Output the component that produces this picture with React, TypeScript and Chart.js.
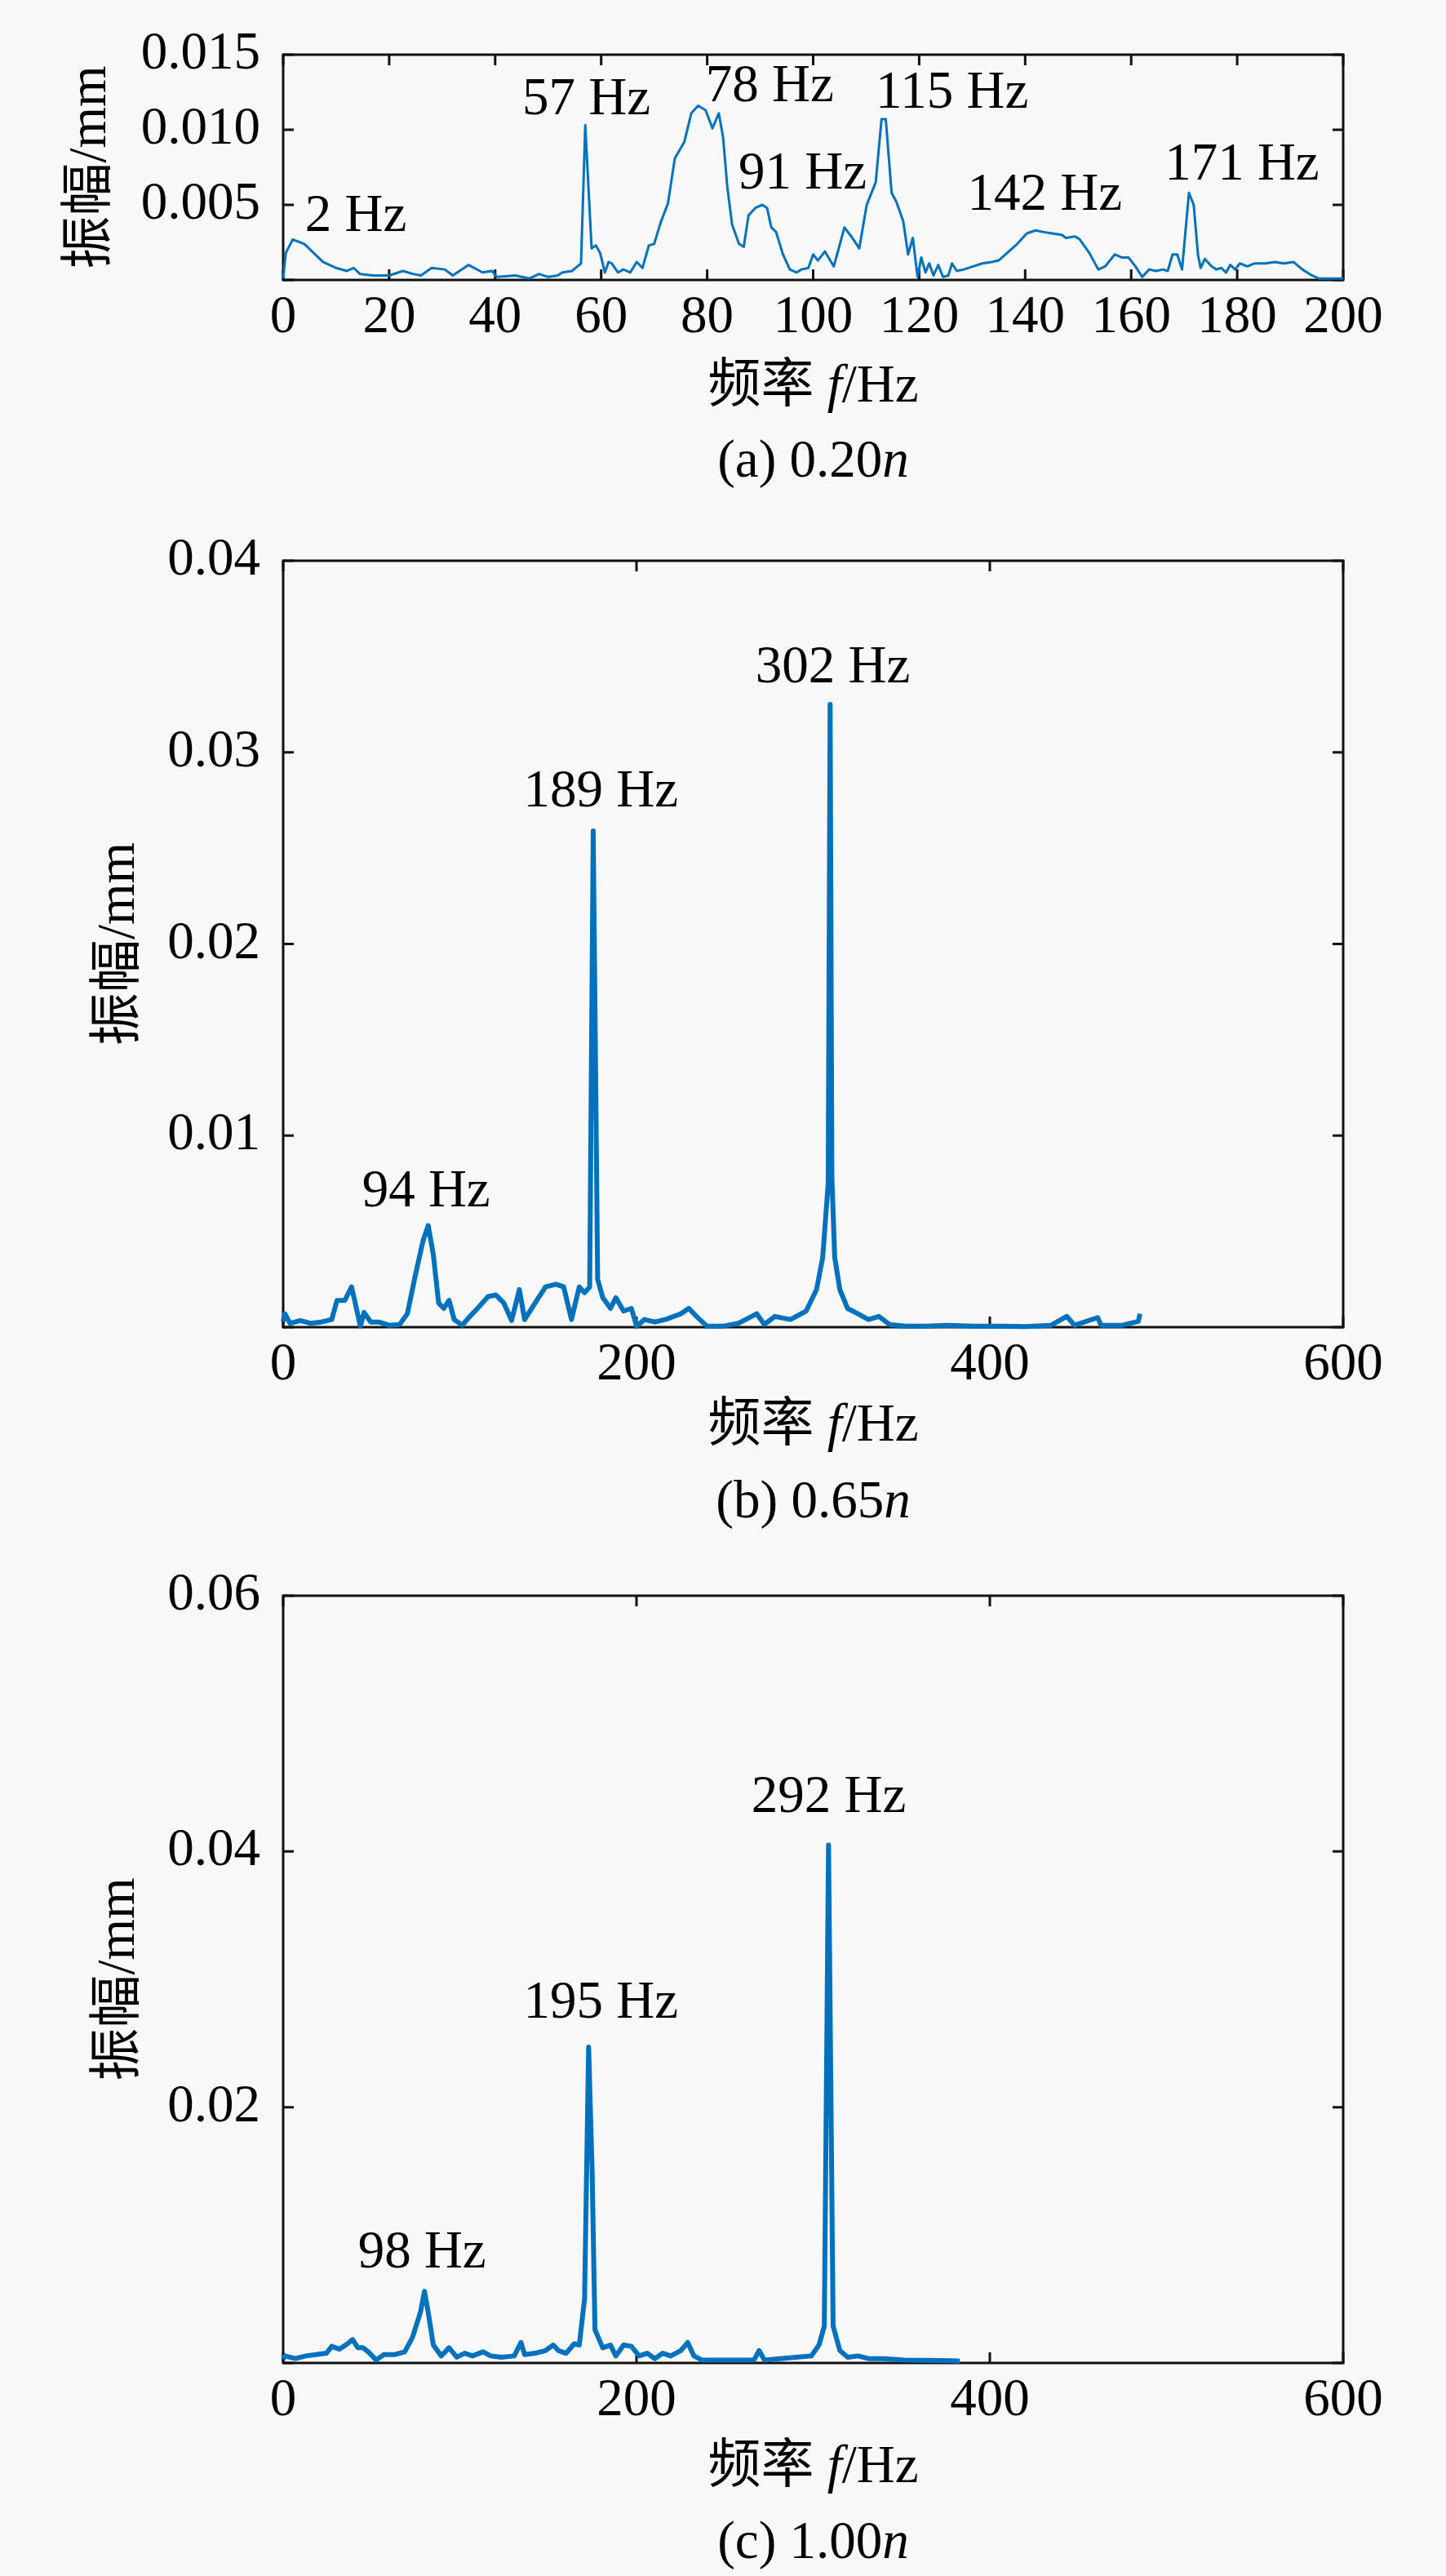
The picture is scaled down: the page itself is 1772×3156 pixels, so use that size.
import React, { useEffect, useRef } from 'react';
import { Chart, registerables } from 'chart.js';

Chart.register(...registerables);

// ---------- data: panel (a) 0.20n ----------
const freqA = [0, 0.5, 1.8, 4, 7.5, 10, 12, 13.3, 14.5, 17, 20, 22.6, 24.5, 26, 28, 30.5, 32, 35, 37.6, 39.4, 40.3, 43.8, 46.5, 48.3, 50, 51.8, 52.7, 54.5, 56.2, 57, 58.2, 59, 59.8, 60.7, 61.4, 62, 63.2, 64.2, 65.5, 66.7, 67.8, 69, 70, 71.2, 72.6, 73.9, 75.7, 77, 78.3, 79.7, 81, 82.2, 83, 83.8, 84.7, 86, 86.9, 87.8, 89.1, 90.4, 91.3, 92.1, 93, 94.3, 95.6, 96.9, 97.8, 99.1, 100, 100.9, 102.2, 103.9, 105.9, 107.4, 108.7, 110.1, 111.8, 112.9, 113.7, 114.8, 115.7, 117, 117.9, 118.8, 119.7, 120.4, 121.2, 121.9, 122.7, 123.6, 124.5, 125.5, 126.2, 127.1, 128.4, 130.2, 131.9, 133.7, 135, 136.3, 138.5, 140.3, 142, 143.3, 145.1, 146.9, 147.7, 149.4, 150.3, 152.1, 153.8, 155.1, 156.9, 158.2, 159.5, 160.8, 162.1, 163.4, 164.7, 166, 166.9, 167.8, 168.7, 169.6, 170.9, 171.8, 172.6, 173.1, 173.9, 175.2, 176.1, 177, 177.9, 178.7, 179.6, 180.5, 181.9, 183.2, 185.3, 187.1, 188.8, 190.6, 192.3, 194.1, 195.4, 200];
const ampA = [0.0001, 0.0018, 0.0027, 0.0024, 0.0012, 0.0008, 0.0006, 0.0008, 0.0004, 0.0003, 0.0003, 0.0006, 0.0004, 0.0003, 0.0008, 0.0007, 0.0003, 0.001, 0.0005, 0.0006, 0.0002, 0.0003, 0.0001, 0.0004, 0.0002, 0.0003, 0.0005, 0.0006, 0.0011, 0.0103, 0.0021, 0.0023, 0.0018, 0.0005, 0.0012, 0.0011, 0.0005, 0.0007, 0.0005, 0.0012, 0.0008, 0.0023, 0.0024, 0.0038, 0.0051, 0.0081, 0.0092, 0.0111, 0.0116, 0.0113, 0.0101, 0.0111, 0.0095, 0.0062, 0.0037, 0.0024, 0.0022, 0.0043, 0.0048, 0.005, 0.0048, 0.0035, 0.0032, 0.0017, 0.0007, 0.0005, 0.0007, 0.0008, 0.0017, 0.0013, 0.0019, 0.0009, 0.0035, 0.0028, 0.0021, 0.005, 0.0065, 0.0107, 0.0107, 0.0058, 0.0052, 0.0039, 0.0017, 0.0028, 0.0002, 0.0015, 0.0005, 0.0011, 0.0003, 0.001, 0.0002, 0.0003, 0.0011, 0.0006, 0.0007, 0.0009, 0.0011, 0.0012, 0.0013, 0.0017, 0.0024, 0.0031, 0.0033, 0.0032, 0.0031, 0.003, 0.0028, 0.0029, 0.0027, 0.0018, 0.0007, 0.0009, 0.0017, 0.0015, 0.0015, 0.0009, 0.0002, 0.0007, 0.0006, 0.0007, 0.0006, 0.0017, 0.0017, 0.0007, 0.0058, 0.005, 0.0017, 0.0008, 0.0014, 0.0009, 0.0007, 0.0008, 0.0005, 0.001, 0.0007, 0.0011, 0.0009, 0.0011, 0.0011, 0.0012, 0.0011, 0.0012, 0.0007, 0.0003, 0.0001, 0.0001];
const labelTextA = ['2 Hz', '57 Hz', '78 Hz', '91 Hz', '115 Hz', '142 Hz', '171 Hz'];
const labelFreqA = [13.7, 57.2, 91.8, 98, 126.2, 143.7, 180.9];
const labelAmpA = [0.00417, 0.01194, 0.01282, 0.00699, 0.01238, 0.00558, 0.00762];

// ---------- data: panel (b) 0.65n ----------
const freqB = [0, 1, 3.9, 9.8, 15.7, 21.6, 27.5, 30.5, 34.9, 38.7, 40.8, 43.7, 45.8, 49.6, 54, 60, 65.9, 70.3, 74.7, 79.1, 82.1, 85, 88, 90.9, 93.9, 96.8, 101.3, 105.7, 110, 116, 120.4, 124.9, 129.3, 133.7, 136.7, 142.6, 148.5, 154.4, 158.8, 163.2, 167.6, 170.6, 173.5, 175.5, 176.6, 178, 180.9, 185.3, 188.3, 192.7, 197.1, 200.1, 204.5, 210.4, 216.3, 225.1, 229.6, 234, 239.9, 248.8, 257.6, 268, 272.4, 278.3, 287.1, 296, 301.9, 305.4, 308.5, 309.6, 310.6, 312.2, 315.1, 319.5, 325.4, 331.3, 337.2, 343.2, 352, 363.8, 375.6, 390.4, 405.1, 419.9, 434.6, 443.5, 448, 461, 463, 475, 484, 485];
const ampB = [0.0003, 0.0007, 0.0002, 0.00035, 0.0002, 0.00027, 0.0004, 0.0014, 0.0014, 0.0021, 0.00126, 0.00005, 0.00077, 0.00027, 0.00027, 0.0001, 0.00014, 0.0007, 0.00266, 0.00448, 0.0053, 0.00378, 0.00126, 0.00098, 0.0014, 0.0004, 0.0001, 0.00056, 0.00098, 0.0016, 0.00168, 0.00126, 0.00035, 0.00196, 0.0004, 0.00126, 0.0021, 0.00224, 0.0021, 0.0004, 0.0021, 0.0018, 0.0021, 0.0259, 0.0157, 0.0025, 0.00154, 0.00098, 0.00154, 0.00084, 0.00098, 0.00005, 0.0004, 0.00027, 0.0004, 0.0007, 0.00098, 0.00056, 0.00005, 0.00005, 0.0002, 0.0007, 0.00014, 0.00056, 0.0004, 0.00084, 0.00196, 0.00364, 0.0075, 0.0325, 0.0078, 0.00364, 0.00196, 0.00098, 0.0007, 0.0004, 0.00056, 0.00014, 0.00005, 0.00005, 0.0001, 0.00005, 0.00005, 0.00003, 0.0001, 0.00056, 0.0001, 0.0005, 0.0001, 0.0001, 0.0003, 0.0007];
const labelTextB = ['94 Hz', '189 Hz', '302 Hz'];
const labelFreqB = [80.9, 179.8, 311.1];
const labelAmpB = [0.00703, 0.0279, 0.0344];

// ---------- data: panel (c) 1.00n ----------
const freqC = [0, 1, 6.9, 12.8, 18.7, 24.5, 27.5, 31.9, 36.4, 39.3, 42.3, 45.2, 48.2, 52.6, 57, 62.9, 68.8, 73.2, 77.7, 80, 82.1, 85, 89.5, 93.9, 98.3, 102.7, 107.2, 113.1, 117.5, 123.4, 130.8, 134.6, 136.7, 142.6, 148.5, 152.9, 155.8, 160.2, 164.7, 167.6, 170.6, 172.9, 174.9, 176.5, 180.9, 185.3, 188.3, 192.7, 197.1, 201.5, 206, 210.4, 214.8, 219.3, 225.1, 229, 232.5, 237, 248.8, 257.6, 266.5, 269.4, 272.4, 281.2, 290.1, 298.9, 303.3, 306.3, 308.7, 311.3, 315.1, 319.5, 325.4, 331.3, 340.2, 352, 363.8, 378.5, 383];
const ampC = [0.0003, 0.00055, 0.00034, 0.00055, 0.00065, 0.00076, 0.0013, 0.00108, 0.0015, 0.00183, 0.00119, 0.00119, 0.00087, 0.00023, 0.00065, 0.00065, 0.00087, 0.002, 0.00396, 0.0056, 0.00396, 0.0014, 0.00055, 0.00119, 0.00045, 0.00076, 0.00055, 0.00087, 0.00055, 0.00045, 0.00055, 0.0016, 0.00065, 0.00076, 0.00097, 0.0014, 0.00097, 0.00076, 0.0015, 0.0014, 0.005, 0.0247, 0.0149, 0.0026, 0.00119, 0.0014, 0.00055, 0.0014, 0.0013, 0.00055, 0.00076, 0.00034, 0.00076, 0.00055, 0.00097, 0.0016, 0.00055, 0.00023, 0.00023, 0.00023, 0.00023, 0.00097, 0.00023, 0.00034, 0.00045, 0.00055, 0.0014, 0.00288, 0.0405, 0.00288, 0.00097, 0.00045, 0.00055, 0.00034, 0.00034, 0.00023, 0.0002, 0.00017, 0.00015];
const labelTextC = ['98 Hz', '195 Hz', '292 Hz'];
const labelFreqC = [78.6, 179.8, 308.8];
const labelAmpC = [0.00856, 0.0281, 0.0442];

const xTitleParts = ['频率 ', 'f', '/Hz'];
const yTitle = '振幅/mm';

// ---------- styling ----------
const SERIF = "'Liberation Serif', 'Times New Roman', 'Noto Sans CJK SC', serif";
const FS = 65;
const BLUE = '#0072BD';
const PAGE_W = 1772;
const PLOT_LEFT = 347;
const PLOT_RIGHT = 1646;
const TICK = 13;

type PanelCfg = {
  freq: number[];
  amp: number[];
  labelText: string[];
  labelFreq: number[];
  labelAmp: number[];
  caption: string;
  xMax: number;
  xStep: number;
  yMax: number;
  yStep: number;
  yDec: number;
  top: number;
  height: number;
  padTop: number;
  xAxisH: number;
  yTitlePad: number;
  lineWidth: number;
  titleOff: number;
  capOff: number;
};

const panels: PanelCfg[] = [
  {
    freq: freqA, amp: ampA, labelText: labelTextA, labelFreq: labelFreqA, labelAmp: labelAmpA,
    caption: '(a) 0.20', xMax: 200, xStep: 20, yMax: 0.015, yStep: 0.005, yDec: 3,
    top: 0, height: 620, padTop: 34, xAxisH: 277, yTitlePad: 73, lineWidth: 3,
    titleOff: 132, capOff: 224,
  },
  {
    freq: freqB, amp: ampB, labelText: labelTextB, labelFreq: labelFreqB, labelAmp: labelAmpB,
    caption: '(b) 0.65', xMax: 600, xStep: 200, yMax: 0.04, yStep: 0.01, yDec: 2,
    top: 620, height: 1260, padTop: 57, xAxisH: 254, yTitlePad: 108, lineWidth: 6,
    titleOff: 122, capOff: 216,
  },
  {
    freq: freqC, amp: ampC, labelText: labelTextC, labelFreq: labelFreqC, labelAmp: labelAmpC,
    caption: '(c) 1.00', xMax: 600, xStep: 200, yMax: 0.06, yStep: 0.02, yDec: 2,
    top: 1880, height: 1276, padTop: 75, xAxisH: 261, yTitlePad: 108, lineWidth: 6,
    titleOff: 129, capOff: 222,
  },
];

function drawRich(ctx: CanvasRenderingContext2D, parts: { t: string; it: boolean }[], cx: number, cy: number) {
  const fontOf = (it: boolean) => `${it ? 'italic ' : ''}${FS}px ${SERIF}`;
  let total = 0;
  const widths = parts.map((p) => {
    ctx.font = fontOf(p.it);
    const w = ctx.measureText(p.t).width;
    total += w;
    return w;
  });
  let x = cx - total / 2;
  ctx.textAlign = 'left';
  ctx.textBaseline = 'middle';
  ctx.fillStyle = '#000';
  parts.forEach((p, i) => {
    ctx.font = fontOf(p.it);
    ctx.fillText(p.t, x, cy);
    x += widths[i];
  });
}

function Panel({ cfg }: { cfg: PanelCfg }) {
  const ref = useRef<HTMLCanvasElement>(null);

  useEffect(() => {
    const canvas = ref.current;
    if (!canvas) return;
    const points = cfg.freq.map((f, i) => ({ x: f, y: cfg.amp[i] }));

    const framePlugin = {
      id: 'frame',
      beforeDatasetsDraw(chart: any) {
        const { ctx, chartArea } = chart;
        const { left, right, top, bottom } = chartArea;
        const xs = chart.scales.x;
        const ys = chart.scales.y;
        ctx.save();
        ctx.strokeStyle = '#111';
        ctx.lineWidth = 3;
        ctx.beginPath();
        xs.ticks.forEach((t: any) => {
          const p = xs.getPixelForValue(t.value);
          ctx.moveTo(p, bottom);
          ctx.lineTo(p, bottom - TICK);
          ctx.moveTo(p, top);
          ctx.lineTo(p, top + TICK);
        });
        ys.ticks.forEach((t: any) => {
          const p = ys.getPixelForValue(t.value);
          ctx.moveTo(left, p);
          ctx.lineTo(left + TICK, p);
          ctx.moveTo(right, p);
          ctx.lineTo(right - TICK, p);
        });
        ctx.stroke();
        ctx.strokeRect(left, top, right - left, bottom - top);
        ctx.restore();
      },
      afterDraw(chart: any) {
        const { ctx, chartArea } = chart;
        const xs = chart.scales.x;
        const ys = chart.scales.y;
        ctx.save();
        ctx.fillStyle = '#000';
        ctx.font = `${FS}px ${SERIF}`;
        ctx.textAlign = 'center';
        ctx.textBaseline = 'middle';
        cfg.labelText.forEach((t, i) => {
          ctx.fillText(t, xs.getPixelForValue(cfg.labelFreq[i]), ys.getPixelForValue(cfg.labelAmp[i]));
        });
        const cx = (chartArea.left + chartArea.right) / 2;
        drawRich(
          ctx,
          [
            { t: xTitleParts[0], it: false },
            { t: xTitleParts[1], it: true },
            { t: xTitleParts[2], it: false },
          ],
          cx,
          chartArea.bottom + cfg.titleOff
        );
        drawRich(
          ctx,
          [
            { t: cfg.caption, it: false },
            { t: 'n', it: true },
          ],
          cx,
          chartArea.bottom + cfg.capOff
        );
        ctx.restore();
      },
    };

    const chart = new Chart(canvas, {
      type: 'line',
      data: {
        datasets: [
          {
            data: points,
            borderColor: BLUE,
            borderWidth: cfg.lineWidth,
            pointRadius: 0,
            tension: 0,
            fill: false,
            clip: false as any,
            borderJoinStyle: 'round',
          },
        ],
      },
      options: {
        responsive: false,
        animation: false,
        events: [],
        layout: { padding: { left: 0, right: PAGE_W - PLOT_RIGHT, top: cfg.padTop, bottom: 0 } },
        plugins: { legend: { display: false }, tooltip: { enabled: false } },
        scales: {
          x: {
            type: 'linear',
            min: 0,
            max: cfg.xMax,
            grid: { display: false, drawTicks: false },
            border: { display: false },
            ticks: {
              stepSize: cfg.xStep,
              padding: 8,
              color: '#000',
              font: { family: SERIF, size: FS },
              maxRotation: 0,
              autoSkip: false,
            },
            afterFit(scale: any) {
              scale.height = cfg.xAxisH;
            },
          },
          y: {
            type: 'linear',
            min: 0,
            max: cfg.yMax,
            grid: { display: false, drawTicks: false },
            border: { display: false },
            ticks: {
              stepSize: cfg.yStep,
              padding: 28,
              color: '#000',
              font: { family: SERIF, size: FS },
              callback: (v: any) => (Math.abs(Number(v)) < 1e-12 ? '' : Number(v).toFixed(cfg.yDec)),
            },
            title: {
              display: true,
              text: yTitle,
              color: '#000',
              font: { family: SERIF, size: FS },
              padding: { top: cfg.yTitlePad, bottom: 0 },
            },
            afterFit(scale: any) {
              scale.width = PLOT_LEFT;
            },
          },
        },
      },
      plugins: [framePlugin],
    } as any);

    return () => chart.destroy();
  }, [cfg]);

  return (
    <canvas
      ref={ref}
      width={PAGE_W}
      height={cfg.height}
      style={{ position: 'absolute', left: 0, top: cfg.top, width: PAGE_W, height: cfg.height, display: 'block' }}
    />
  );
}

export default function App() {
  return (
    <div
      style={{
        position: 'absolute',
        left: 0,
        top: 0,
        width: PAGE_W,
        height: 3156,
        background: '#f8f8f8',
        overflow: 'hidden',
      }}
    >
      {panels.map((p, i) => (
        <Panel key={i} cfg={p} />
      ))}
    </div>
  );
}
